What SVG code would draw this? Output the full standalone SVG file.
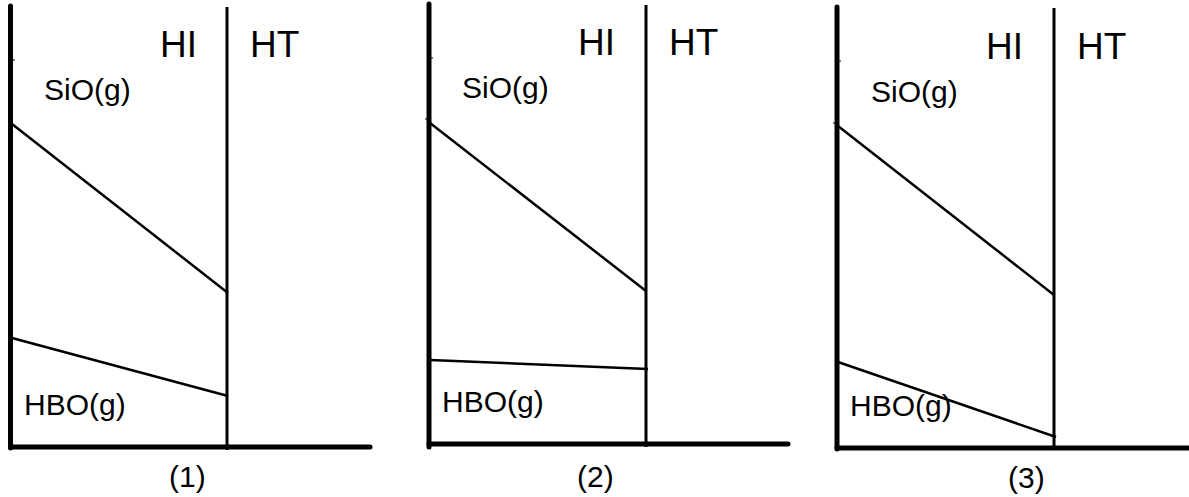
<svg xmlns="http://www.w3.org/2000/svg" width="1189" height="497" viewBox="0 0 1189 497">
<style>
.axis{stroke:#000;stroke-width:5;stroke-linecap:round;fill:none}
.div{stroke:#000;stroke-width:3;fill:none}
.ln{stroke:#000;stroke-width:2.5;fill:none}
.tick{stroke:#000;stroke-width:1;fill:none}
.big{font-family:"Liberation Sans",Arial,sans-serif;font-size:37px;fill:#000}
.lab{font-family:"Liberation Sans",Arial,sans-serif;font-size:30px;fill:#000}
.num{font-family:"Liberation Sans",Arial,sans-serif;font-size:30px;fill:#000}
</style>
<rect width="1189" height="497" fill="#fff"/>
<g id="panel1">
  <line class="axis" x1="10.5" y1="6" x2="10.5" y2="448"/>
  <line class="axis" x1="10.5" y1="447" x2="370" y2="447"/>
  <line class="div" x1="227" y1="7" x2="227" y2="450"/>
  <line class="tick" x1="12" y1="60" x2="15" y2="60"/>
  <line class="tick" x1="8" y1="121" x2="12" y2="121"/>
  <text class="big" x="160" y="57">HI</text>
  <text class="big" x="250" y="57">HT</text>
  <text class="lab" x="44" y="100">SiO(g)</text>
  <text class="lab" x="24" y="415">HBO(g)</text>
  <text class="num" x="169" y="487">(1)</text>
</g>
<g id="panel2">
  <line class="axis" x1="429" y1="4" x2="429" y2="447"/>
  <line class="axis" x1="429" y1="444" x2="788" y2="444"/>
  <line class="div" x1="646" y1="5" x2="646" y2="447"/>
  <line class="tick" x1="430" y1="58" x2="433" y2="58"/>
  <line class="tick" x1="425" y1="119" x2="429" y2="119"/>
  <text class="big" x="578" y="55">HI</text>
  <text class="big" x="669" y="55">HT</text>
  <text class="lab" x="462" y="98">SiO(g)</text>
  <text class="lab" x="442" y="412">HBO(g)</text>
  <text class="num" x="577" y="487">(2)</text>
</g>
<g id="panel3">
  <line class="axis" x1="837" y1="7" x2="837" y2="449"/>
  <line class="axis" x1="837" y1="448" x2="1192" y2="448"/>
  <line class="div" x1="1054" y1="8" x2="1054" y2="450"/>
  <line class="tick" x1="838" y1="61" x2="841" y2="61"/>
  <line class="tick" x1="833" y1="123" x2="837" y2="123"/>
  <text class="big" x="986" y="59">HI</text>
  <text class="big" x="1077" y="59">HT</text>
  <text class="lab" x="871" y="102">SiO(g)</text>
  <text class="lab" x="850" y="416">HBO(g)</text>
  <text class="num" x="1008" y="488">(3)</text>
</g>
<g id="connectors">
  <line class="ln" x1="12" y1="124" x2="228" y2="293"/>
  <line class="ln" x1="12" y1="338" x2="228" y2="396"/>
  <line class="ln" x1="430" y1="123" x2="646" y2="291"/>
  <line class="ln" x1="430" y1="360" x2="648" y2="369"/>
  <line class="ln" x1="838" y1="126" x2="1054" y2="295"/>
  <line class="ln" x1="838" y1="362" x2="1056" y2="437"/>
</g>
</svg>
